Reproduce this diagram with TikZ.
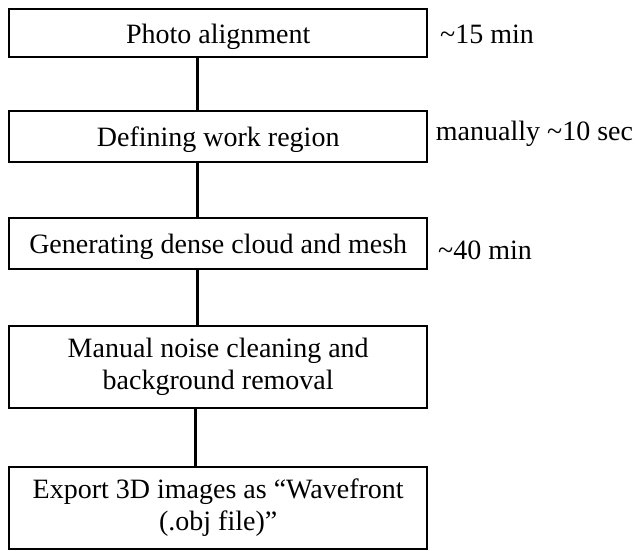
\documentclass[tikz,border=0pt]{standalone}
\usepackage{fontspec}
\setmainfont{Liberation Serif}
\begin{document}
\begin{tikzpicture}[x=1pt,y=-1pt,
  stagebox/.style={draw=black, line width=1.8pt, fill=white, minimum width=417.7pt,
    inner sep=0pt, align=center, font=\fontsize{28}{32}\selectfont},
  oneline/.style={text depth=0pt},
  timenote/.style={anchor=base west, inner sep=0pt, font=\fontsize{28}{32}\selectfont},
  link/.style={draw=black, line width=2.6pt}]
\useasboundingbox (0,0) rectangle (636,550);

% workflow stages
\node[stagebox, oneline, minimum height=48pt]   (b1) at (218.2,33.3)  {Photo alignment};
\node[stagebox, oneline, minimum height=51.6pt] (b2) at (218.2,136.5) {Defining work region};
\node[stagebox, oneline, minimum height=50.7pt] (b3) at (218.2,243.7) {Generating dense cloud and mesh};
\node[stagebox, minimum height=82.6pt] (b4) at (218.2,367)   {Manual noise cleaning and\\background removal};
\node[stagebox, minimum height=82.3pt] (b5) at (218.2,507.8) {Export 3D images as ``Wavefront\\(.obj file)''};

% links between stages
\draw[link] ([xshift=-20.5pt]b1.south) -- ([xshift=-20.5pt]b2.north);
\draw[link] ([xshift=-20.5pt]b2.south) -- ([xshift=-20.5pt]b3.north);
\draw[link] ([xshift=-20.5pt]b3.south) -- ([xshift=-20.5pt]b4.north);
\draw[link] ([xshift=-23pt]b4.south) -- ([xshift=-23pt]b5.north);

% processing times
\node[timenote] (t1) at (440,43.3)  {\textasciitilde15 min};
\node[timenote] (t2) at (435.7,140) {manually \textasciitilde10 sec};
\node[timenote] (t3) at (438,259.3) {\textasciitilde40 min};
\end{tikzpicture}
\end{document}
